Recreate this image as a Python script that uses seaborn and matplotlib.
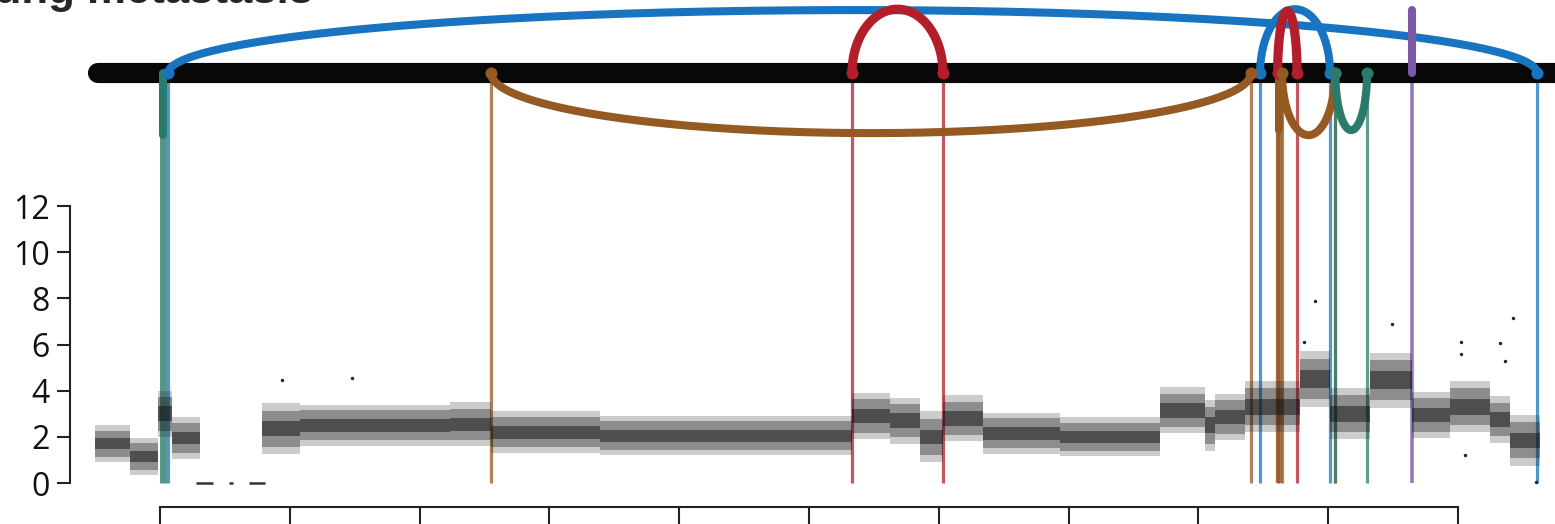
"""
Copy-number profile of one chromosome with structural-variant arcs drawn
above / below the chromosome bar. Positions in Mb, copy number on y.
"""

import numpy as np
import pandas as pd
import matplotlib
matplotlib.use("Agg")
import matplotlib.pyplot as plt
import seaborn as sns

sns.set_theme(style="white")
plt.rcParams["font.family"] = ["Open Sans", "DejaVu Sans"]

# ---- copy-number segments (Mb, copy number, spread)
seg_start = [4.99, 7.69, 9.85, 10.92, 17.86, 20.79, 32.34, 35.50, 43.90,
             63.31, 66.24, 68.55, 70.32, 73.41, 79.34, 87.04, 90.51, 91.28,
             93.59, 97.83, 100.14, 103.22, 106.46, 109.38, 112.47, 114.01]
seg_end = [7.69, 9.85, 10.92, 13.08, 20.79, 32.34, 35.50, 43.90, 63.31,
           66.24, 68.55, 70.32, 73.41, 79.34, 87.04, 90.51, 91.28, 93.59,
           97.83, 100.14, 103.22, 106.46, 109.38, 112.47, 114.01, 116.32]
seg_cn = [1.70, 1.15, 3.00, 1.95, 2.35, 2.50, 2.55, 2.20, 2.05,
          2.90, 2.70, 2.00, 2.80, 2.15, 2.00, 3.15, 2.50, 2.85,
          3.30, 4.50, 3.00, 4.45, 2.95, 3.30, 2.75, 1.85]
seg_core = [0.35, 0.35, 0.45, 0.40, 0.45, 0.40, 0.40, 0.40, 0.38,
            0.45, 0.45, 0.45, 0.45, 0.40, 0.38, 0.45, 0.50, 0.45,
            0.50, 0.55, 0.50, 0.55, 0.45, 0.50, 0.45, 0.45]
seg_outer = [0.80, 0.80, 1.00, 0.90, 1.10, 0.90, 0.95, 0.90, 0.85,
             1.00, 1.00, 1.10, 1.00, 0.90, 0.85, 1.00, 1.10, 1.00,
             1.10, 1.20, 1.10, 1.20, 1.00, 1.10, 1.00, 1.10]

# bins with zero copies (dashes on the baseline)
zero_start = [12.77, 15.31, 16.86]
zero_end = [14.08, 15.62, 18.09]

# isolated points away from the band
out_x = [19.4, 24.8, 98.1, 98.98, 104.9, 110.2, 110.2, 113.2, 113.6, 114.2, 110.5, 116.0]
out_y = [4.46, 4.55, 6.10, 7.90, 6.90, 6.10, 5.60, 6.05, 5.30, 7.15, 1.20, 0.05]

# ---- structural variants: arcs between two breakpoints (height >0 above bar)
sv_start = [10.62, 63.31, 94.75, 96.10, 35.50, 96.44, 100.55]
sv_end = [116.09, 70.32, 100.14, 97.60, 94.05, 100.52, 102.99]
sv_height = [2.73, 2.77, 2.77, 2.69, -2.60, -2.69, -2.47]
sv_color = ["#1874c0", "#b31e2b", "#1874c0", "#b31e2b", "#945a22", "#945a22", "#2b7b6c"]

# single-ended breakpoints (stubs)
stub_x = [10.23, 96.21, 106.45]
stub_len = [-2.69, -2.47, 2.73]
stub_color = ["#2b7b6c", "#945a22", "#7c59a6"]
stub_lw = [5.0, 4.6, 2.6]

BAR_Y = 17.76

fig = plt.figure(figsize=(15.55, 5.24), dpi=100)
ax = fig.add_axes([0, 0, 1, 1])
ax.set_xlim(-2.33, 117.47)
ax.set_ylim(-1.776, 20.927)

# chromosome bar
ax.plot([5.25, 125], [BAR_Y, BAR_Y], color="#080808", lw=14.5,
        solid_capstyle="round", zorder=3)

# breakpoint drop lines
for x0, x1, c in zip(sv_start, sv_end, sv_color):
    ax.vlines([x0, x1], 0, BAR_Y, color=c, lw=2.3, alpha=0.75, zorder=1)
for x, c, lw in zip(stub_x, stub_color, stub_lw):
    ax.vlines(x, 0, BAR_Y, color=c, lw=lw, alpha=0.8, zorder=1)

# arcs
for x0, x1, h, c in zip(sv_start, sv_end, sv_height, sv_color):
    t = np.linspace(0, np.pi, 200)
    mid, half = (x0 + x1) / 2, (x1 - x0) / 2
    red = c == "#b31e2b"
    ax.plot(mid - half * np.cos(t), BAR_Y + h * np.sin(t), color=c,
            lw=6.6 if red else 5.8, solid_capstyle="round", zorder=5 if red else 4)
    ax.scatter([x0, x1], [BAR_Y, BAR_Y], s=75, color=c, zorder=5, linewidths=0)
for x, ln, c in zip(stub_x, stub_len, stub_color):
    ax.plot([x, x], [BAR_Y, BAR_Y + ln], color=c, lw=5.8,
            solid_capstyle="round", zorder=4)

# copy-number band (three stacked layers: outer spread, mid, dense core)
prof = pd.DataFrame({"start": seg_start, "end": seg_end, "cn": seg_cn,
                     "core": seg_core, "outer": seg_outer})
for _, r in prof.iterrows():
    xs = [r.start, r.end]
    mid_w = (r.core + r.outer) / 2
    ax.fill_between(xs, r.cn - r.outer, r.cn + r.outer, color="#1a1a1a",
                    alpha=0.22, lw=0, zorder=2)
    ax.fill_between(xs, r.cn - mid_w, r.cn + mid_w, color="#1a1a1a",
                    alpha=0.35, lw=0, zorder=2)
    ax.fill_between(xs, r.cn - r.core * 0.7, r.cn + r.core * 0.7, color="#111111",
                    alpha=0.5, lw=0, zorder=2)
ax.hlines([0] * len(zero_start), zero_start, zero_end, color="#333333",
          lw=1.8, zorder=2)
sns.scatterplot(x=out_x, y=out_y, ax=ax, color="#222222", s=6,
                linewidth=0, zorder=2)

# axes
for s in ["top", "right"]:
    ax.spines[s].set_visible(False)
ax.spines["left"].set_position(("data", 3.07))
ax.spines["left"].set_bounds(0, 12)
ax.spines["bottom"].set_position(("data", -1.04))
ax.spines["bottom"].set_bounds(10, 110)
for s in ["left", "bottom"]:
    ax.spines[s].set_color("#222222")
    ax.spines[s].set_linewidth(1.5)
ax.set_yticks(range(0, 13, 2))
ax.set_xticks(range(10, 111, 10))
ax.tick_params(axis="y", left=True, direction="out", length=9.5, width=1.5,
               color="#222222", labelsize=23, pad=5, labelcolor="#111111")
ax.tick_params(axis="x", bottom=True, direction="out", length=14, width=1.5,
               color="#222222", labelbottom=False)
ax.grid(False)
ax.set_facecolor("white")

fig.text(313 / 1555, 1 - 3 / 524, "Lung metastasis", ha="right", va="baseline",
         fontsize=31.5, fontweight="bold", family=["Liberation Sans", "DejaVu Sans"])

fig.savefig("out.png", dpi=100)
